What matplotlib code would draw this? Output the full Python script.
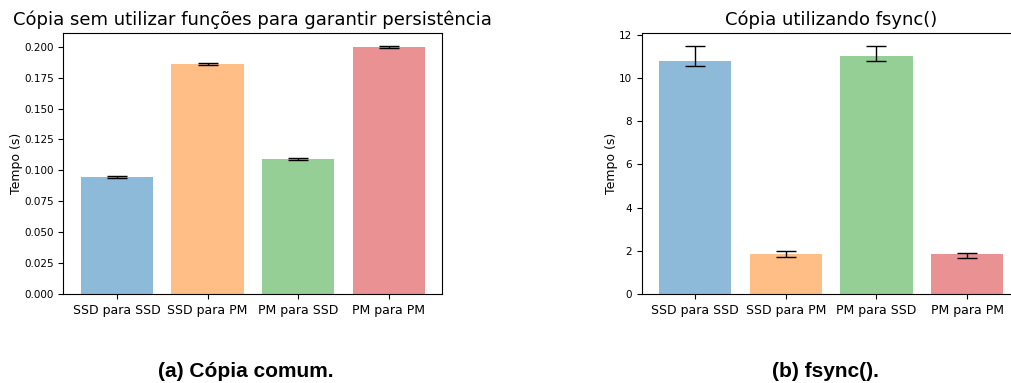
import matplotlib
matplotlib.use('Agg')
import matplotlib.pyplot as plt

labels = ['SSD para SSD', 'SSD para PM', 'PM para SSD', 'PM para PM']
colors = ['tab:blue', 'tab:orange', 'tab:green', 'tab:red']

# copia comum (s)
comum_mean = [0.0947, 0.1862, 0.1093, 0.2000]
comum_err_low = [0.0005, 0.0008, 0.0007, 0.0007]
comum_err_high = [0.0005, 0.0008, 0.0007, 0.0008]

# fsync (s)
fsync_mean = [10.80, 1.85, 11.03, 1.85]
fsync_err_low = [0.25, 0.15, 0.25, 0.20]
fsync_err_high = [0.66, 0.16, 0.46, 0.07]

fig = plt.figure(figsize=(10.12, 3.83), dpi=100)

def bar_panel(ax, means, err_low, err_high, title):
    x = range(len(labels))
    ax.bar(x, means, color=colors, alpha=0.5, width=0.8,
           yerr=[err_low, err_high], capsize=7.5, ecolor='black',
           error_kw={'elinewidth': 1.0, 'capthick': 1.0})
    ax.set_xticks(list(x))
    ax.set_xticklabels(labels, fontsize=9)
    ax.tick_params(axis='y', labelsize=7.5)
    ax.set_ylabel('Tempo (s)', fontsize=9, labelpad=0.5)
    ax.set_title(title, fontsize=13)

ax1 = fig.add_axes([0.0626, 0.2324, 0.3745, 0.6806])
bar_panel(ax1, comum_mean, comum_err_low, comum_err_high,
          'Cópia sem utilizar funções para garantir persistência')

ax2 = fig.add_axes([0.634, 0.2324, 0.3745, 0.6806])
bar_panel(ax2, fsync_mean, fsync_err_low, fsync_err_high,
          'Cópia utilizando fsync()')

fig.text(0.243, 0.031, '(a) Cópia comum.', ha='center', va='center',
         fontsize=15, fontweight='bold', family='Liberation Sans')
fig.text(0.816, 0.031, '(b) fsync().', ha='center', va='center',
         fontsize=15, fontweight='bold', family='Liberation Sans')

fig.savefig('out.png', dpi=100)
